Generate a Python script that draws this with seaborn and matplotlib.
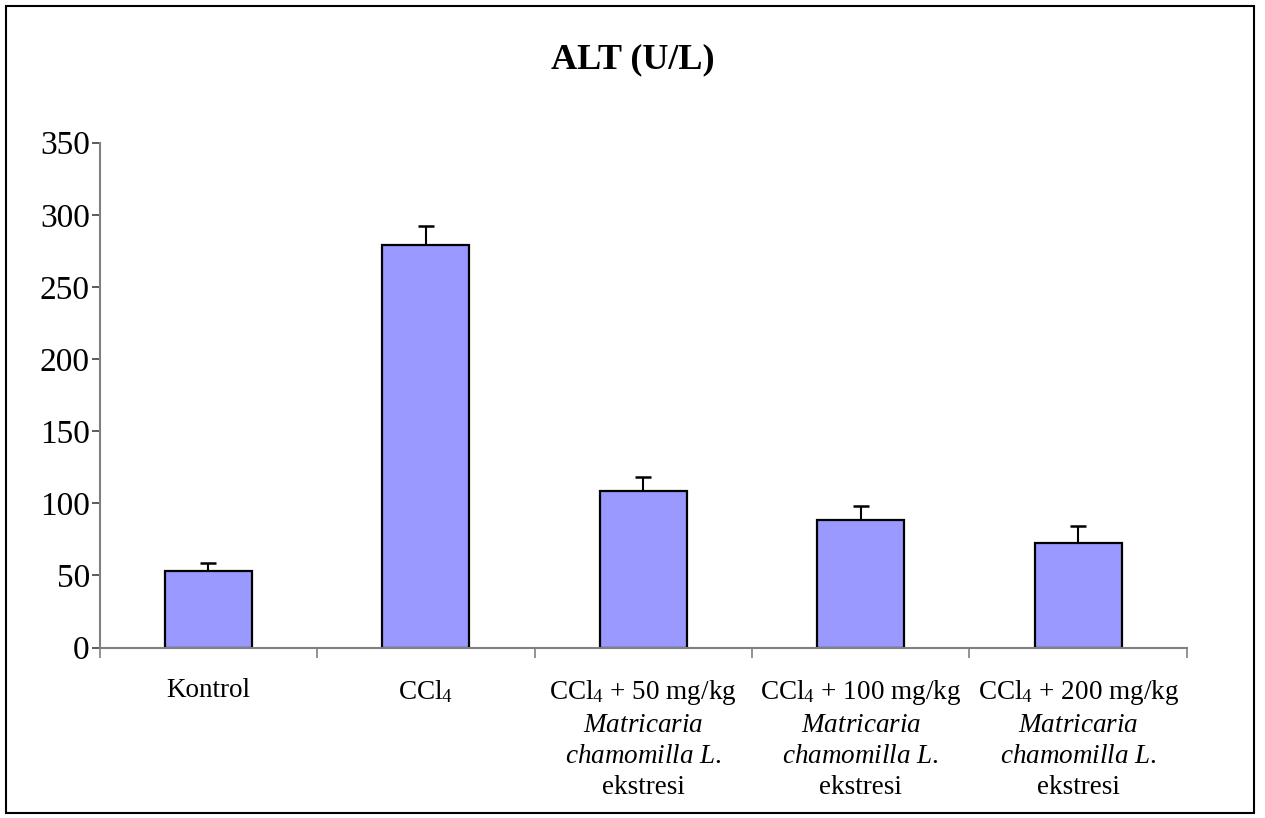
import numpy as np
import pandas as pd
import matplotlib
matplotlib.use('Agg')
import matplotlib.pyplot as plt
import seaborn as sns
from matplotlib.patches import Rectangle

groups = ['Kontrol',
          r'CCl$_4$',
          'CCl$_4$ + 50 mg/kg\n$\\mathit{Matricaria}$\n$\\mathit{chamomilla\\ L.}$\nekstresi',
          'CCl$_4$ + 100 mg/kg\n$\\mathit{Matricaria}$\n$\\mathit{chamomilla\\ L.}$\nekstresi',
          'CCl$_4$ + 200 mg/kg\n$\\mathit{Matricaria}$\n$\\mathit{chamomilla\\ L.}$\nekstresi']
alt_mean = [52.9, 279.2, 108.5, 88.5, 72.3]
alt_err = [6.0, 13.4, 9.7, 9.4, 12.3]
yticks = [0, 50, 100, 150, 200, 250, 300, 350]

sns.set_style('ticks')
plt.rcParams['font.family'] = ['Liberation Serif', 'DejaVu Serif']
plt.rcParams['mathtext.fontset'] = 'custom'
plt.rcParams['mathtext.rm'] = 'Liberation Serif'
plt.rcParams['mathtext.it'] = 'Liberation Serif:italic'
plt.rcParams['mathtext.bf'] = 'Liberation Serif:bold'
plt.rcParams['text.color'] = 'black'
plt.rcParams['xtick.labelcolor'] = 'black'
plt.rcParams['ytick.labelcolor'] = 'black'

df = pd.DataFrame({'grup': groups, 'ALT': alt_mean})

fig = plt.figure(figsize=(12.65, 8.18), dpi=100)
ax = fig.add_axes([0.0787, 0.2084, 0.9383 - 0.0787, 0.8255 - 0.2084])

sns.barplot(data=df, x='grup', y='ALT', color='#9999FF', saturation=1,
            width=0.4, edgecolor='black', linewidth=1.6, errorbar=None, ax=ax)
x = np.arange(len(groups))
eb = ax.errorbar(x, alt_mean, yerr=[np.zeros(len(alt_err)), alt_err], fmt='none',
                 ecolor='black', elinewidth=1.5, capsize=5.6, capthick=1.8, zorder=3)
# only the upper cap is shown
eb[1][0].set_visible(False)

ax.set_xlim(-0.5, len(groups) - 0.5)
ax.set_ylim(0, 350)
ax.set_yticks(yticks)
ax.set_yticklabels([str(v) for v in yticks], fontsize=24)
ax.tick_params(axis='y', length=6, width=1.2, color='#404040', pad=1)

# ticks between categories, labels at category centres
ax.set_xticks(np.arange(-0.5, len(groups), 1.0))
ax.set_xticklabels([])
ax.set_xticks(x, minor=True)
ax.set_xticklabels(groups, minor=True, fontsize=19.5, linespacing=1.32, va='top')
ax.tick_params(axis='x', which='major', length=7, width=1.2, color='#808080')
ax.tick_params(axis='x', which='minor', length=0, pad=22)

ax.set_xlabel('')
ax.set_ylabel('')
for s in ['top', 'right']:
    ax.spines[s].set_visible(False)
for s in ['left', 'bottom']:
    ax.spines[s].set_color('#808080')
    ax.spines[s].set_linewidth(1.5)

fig.text(0.5, 1 - 60 / 818, 'ALT (U/L)', ha='center', va='center',
         fontsize=26, fontweight='bold')

fig.patches.append(Rectangle((6 / 1265, 5 / 818), 1248 / 1265, 807 / 818,
                             transform=fig.transFigure, fill=False,
                             edgecolor='black', linewidth=1.5))

plt.savefig('out.png', dpi=100)
plt.close()
